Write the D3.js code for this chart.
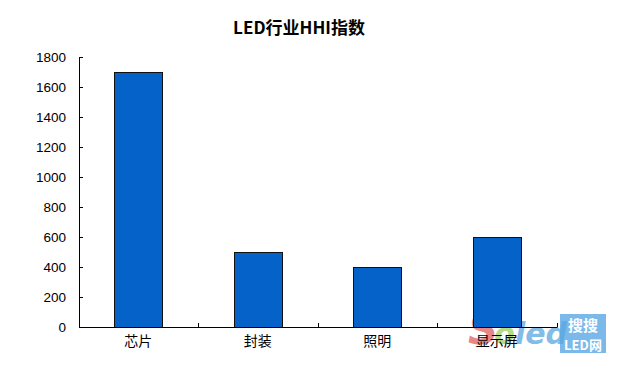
<!DOCTYPE html>
<html><head><meta charset="utf-8">
<script src="https://cdn.jsdelivr.net/npm/d3@7"></script>
<style>body{margin:0;background:#fff}svg{display:block}</style>
</head><body>
<svg id="c" width="620" height="372"></svg>
<script>
const title = "LED行业HHI指数";
const categories = ["芯片", "封装", "照明", "显示屏"];
const values = [1700, 500, 400, 600];
const yTicks = [0, 200, 400, 600, 800, 1000, 1200, 1400, 1600, 1800];

const svg = d3.select("#c");
svg.append("rect").attr("width", 620).attr("height", 372).attr("fill", "#fff");

const y = d3.scaleLinear().domain([0, 1800]).range([327, 57]);
const x = d3.scaleBand().domain(categories).range([78.5, 556.5]).padding(0);
const barW = x.bandwidth() * 0.4;

svg.append("text").attr("x", 299).attr("y", 26)
  .attr("text-anchor", "middle").attr("dominant-baseline", "central")
  .attr("font-family", "'Noto Sans CJK SC', sans-serif").attr("font-weight", "bold")
  .attr("font-size", 17).attr("fill", "#000").text(title);

// watermark logo (drawn beneath the axis labels)
const wm = svg.append("g");
wm.append("rect").attr("x", 560).attr("y", 314).attr("width", 46).attr("height", 39).attr("fill", "#7ab9e9");
wm.append("text").attr("x", 583).attr("y", 331).attr("text-anchor", "middle")
  .attr("font-family", "'Noto Sans CJK SC', sans-serif").attr("font-weight", "bold").attr("font-size", 15)
  .attr("fill", "#fff").text("搜搜");
wm.append("text").attr("x", 583).attr("y", 350).attr("text-anchor", "middle")
  .attr("font-family", "'Noto Sans CJK SC', sans-serif").attr("font-weight", "bold").attr("font-size", 13)
  .attr("fill", "#fff").text("LED网");
const logo = wm.append("text").attr("x", 468).attr("y", 344)
  .attr("font-family", "'DejaVu Sans', sans-serif").attr("font-weight", "bold").attr("font-style", "italic")
  .attr("font-size", 30).attr("opacity", 0.75);
logo.append("tspan").attr("font-size", 42).attr("fill", "#e06060").text("S");
logo.append("tspan").attr("fill", "#9ccf60").attr("dx", -4).text("o");
logo.append("tspan").attr("fill", "#5aa6e0").text("led");

// bars
svg.append("g").selectAll("rect").data(categories).join("rect")
  .attr("x", (d) => Math.round(x(d) + (x.bandwidth() - barW) / 2) + 0.5)
  .attr("y", (d, i) => Math.round(y(values[i])) + 0.5)
  .attr("width", Math.round(barW))
  .attr("height", (d, i) => Math.round(y(0)) - Math.round(y(values[i])))
  .attr("fill", "#0562c8").attr("stroke", "#111").attr("stroke-width", 1);

// y axis
const yAxis = svg.append("g").attr("transform", "translate(79,0)")
  .call(d3.axisLeft(y).tickValues(yTicks).tickSizeInner(-4).tickSizeOuter(0).tickPadding(13).tickFormat(d3.format("d")));
yAxis.select(".domain").attr("stroke", "#000");
yAxis.selectAll("line").attr("stroke", "#000");
yAxis.selectAll("text").attr("font-family", "'Liberation Sans', sans-serif").attr("font-size", 13.5).attr("fill", "#000");

// x axis
const xAxis = svg.append("g").attr("transform", "translate(0,327)")
  .call(d3.axisBottom(x).tickSize(0).tickPadding(9));
xAxis.select(".domain").attr("stroke", "#000");
xAxis.selectAll("text").attr("font-family", "'Noto Sans CJK SC', sans-serif").attr("font-size", 14).attr("fill", "#000");
xAxis.selectAll(".bound").data(categories).join("line").attr("class", "bound")
  .attr("x1", (d) => Math.round(x(d) + x.bandwidth()) + 0.5)
  .attr("x2", (d) => Math.round(x(d) + x.bandwidth()) + 0.5)
  .attr("y1", 0.5).attr("y2", -4).attr("stroke", "#000");
</script>
</body></html>
